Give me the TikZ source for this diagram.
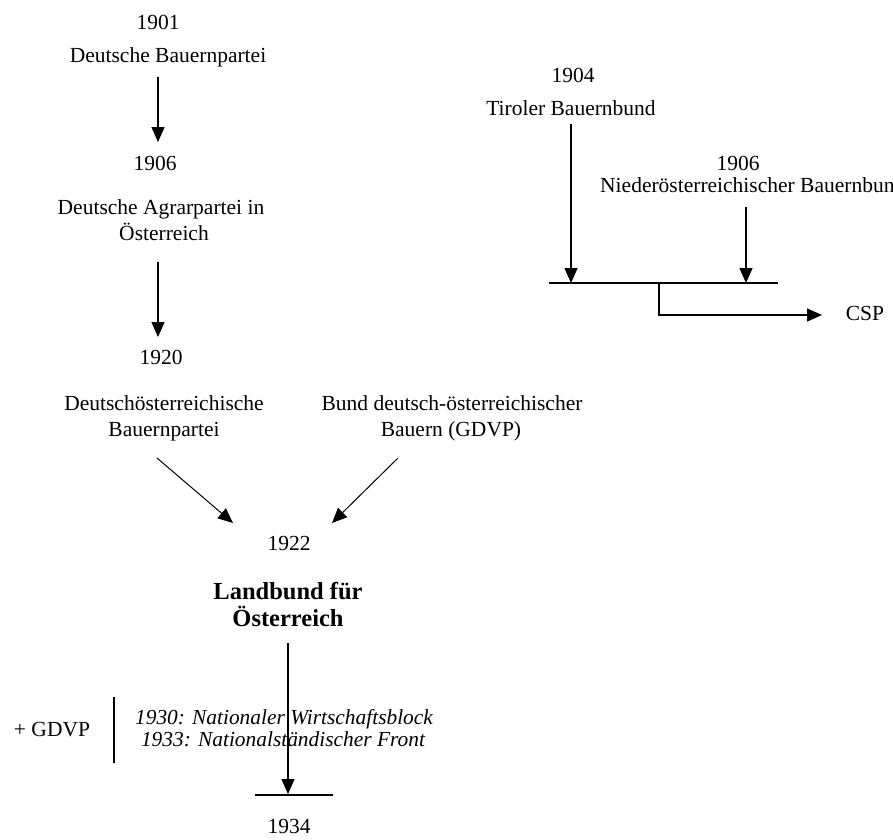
\documentclass[tikz,border=0pt]{standalone}
\usepackage{fontspec}
\setmainfont{Liberation Serif}
\usetikzlibrary{arrows.meta}
\begin{document}
\begin{tikzpicture}[x=1pt,y=-1pt,
  lbl/.style={inner sep=0pt,anchor=base,font=\fontsize{21.5}{26}\selectfont},
  lblleft/.style={lbl,anchor=base west},
  bold/.style={inner sep=0pt,anchor=base,font=\fontsize{24.5}{27}\selectfont\bfseries},
  ital/.style={inner sep=0pt,anchor=base,font=\fontsize{21.4}{22}\selectfont\itshape},
  arr/.style={line width=1.2pt,-{Triangle[width=13pt,length=15pt]}},
  ln/.style={line width=1.2pt}]
\useasboundingbox[fill=white] (0,0) rectangle (893,839);

% left column
\node[lbl] (t1901) at (158,29) {1901};
\node[lbl] (n1901) at (168,62) {Deutsche Bauernpartei};
\node[lbl] (t1906) at (155,170) {1906};
\node[lbl] (n1906a) at (161,214) {Deutsche Agrarpartei in};
\node[lbl] (n1906b) at (164,240) {Österreich};
\node[lbl] (t1920) at (161,364) {1920};
\node[lbl] (n1920a) at (164,410) {Deutschösterreichische};
\node[lbl] (n1920b) at (164,436) {Bauernpartei};
\node[lbl] (bda) at (452,410) {Bund deutsch-österreichischer};
\node[lbl] (bdb) at (451,436) {Bauern (GDVP)};
\node[lbl] (t1922) at (289,550) {1922};
\node[bold] (lba) at (288,599) {Landbund für};
\node[bold] (lbb) at (288,626) {Österreich};
\node[lbl] (gdvp) at (52,736) {+ GDVP};
\node[ital] (i1930) at (284,724) {1930: Nationaler Wirtschaftsblock};
\node[ital] (i1933) at (283,746) {1933: Nationalständischer Front};
\node[lbl] (t1934) at (289,833) {1934};

% right column
\node[lbl] (t1904) at (573,82) {1904};
\node[lbl] (tir) at (571,115) {Tiroler Bauernbund};
\node[lbl] (t1906r) at (738,170) {1906};
\node[lblleft] (nie) at (600,192) {Niederösterreichischer Bauernbund};
\node[lbl] (csp) at (865,320) {CSP};

% connector end points
\coordinate (a1s) at (158,77);   \coordinate (a1e) at (158,142);
\coordinate (a2s) at (158,262);  \coordinate (a2e) at (158,337);
\coordinate (a3s) at (157,458);  \coordinate (a3e) at (233,523);
\coordinate (a4s) at (398,458);  \coordinate (a4e) at (332,523);
\coordinate (a5s) at (288,643);  \coordinate (a5e) at (288,794);
\coordinate (b1l) at (255,795);  \coordinate (b1r) at (333,795);
\coordinate (v1t) at (114,697);  \coordinate (v1b) at (114,763);
\coordinate (a6s) at (571,124);  \coordinate (a6e) at (571,283);
\coordinate (a7s) at (746,207);  \coordinate (a7e) at (746,283);
\coordinate (h1l) at (549,283);  \coordinate (h1r) at (778,283);
\coordinate (h1m) at (659,283);  \coordinate (cspe) at (822,315);

\draw[arr] (a1s) -- (a1e);
\draw[arr] (a2s) -- (a2e);
\draw[arr,line width=1pt] (a3s) -- (a3e);
\draw[arr,line width=1pt] (a4s) -- (a4e);
\draw[arr] (a5s) -- (a5e);
\draw[ln] (b1l) -- (b1r);
\draw[ln] (v1t) -- (v1b);
\draw[arr] (a6s) -- (a6e);
\draw[arr] (a7s) -- (a7e);
\draw[ln] (h1l) -- (h1r);
\draw[arr] (h1m) |- (cspe);
\end{tikzpicture}
\end{document}
